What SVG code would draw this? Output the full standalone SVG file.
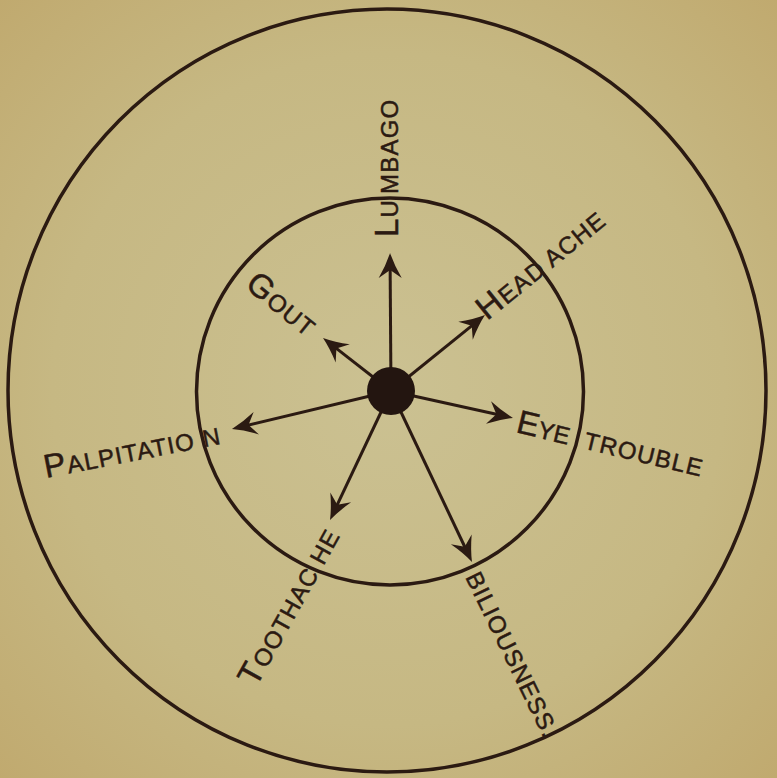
<svg xmlns="http://www.w3.org/2000/svg" width="777" height="778" viewBox="0 0 777 778">
<defs>
<radialGradient id="bg" cx="50%" cy="50%" r="72%">
<stop offset="0" stop-color="#CBC192"/>
<stop offset="0.6" stop-color="#C6B883"/>
<stop offset="1" stop-color="#C0A96E"/>
</radialGradient>
<marker id="ah" markerUnits="userSpaceOnUse" markerWidth="28" markerHeight="26" viewBox="-26 -13 28 26" refX="-10" refY="0" orient="auto">
<path d="M0,0 Q-12,-4 -25,-11.5 L-17,0 L-25,11.5 Q-12,4 0,0 Z" fill="#2B1A12"/>
</marker>
<style>
.ring{fill:none;stroke:#2B1A12;stroke-width:3.5}
.conn line{stroke:#2B1A12;stroke-width:3;marker-end:url(#ah)}
.lbl{font-family:"Liberation Sans",Arial,sans-serif;font-size:24px;fill:#2B1A12;stroke:#2B1A12;stroke-width:0.5;letter-spacing:1.2px}
.big{font-size:33px}
.tight{letter-spacing:0}
</style>
</defs>
<rect width="777" height="778" fill="url(#bg)"/>
<g id="outer-circle"><ellipse class="ring" cx="387" cy="390.5" rx="379" ry="381.5"/></g>
<g id="inner-circle"><circle class="ring" cx="390" cy="391.5" r="193.5"/></g>
<g id="connectors" class="conn">
<line x1="391" y1="391" x2="390.1" y2="263"/>
<line x1="391" y1="391" x2="330.9" y2="344.1"/>
<line x1="391" y1="391" x2="477.2" y2="321.3"/>
<line x1="391" y1="391" x2="241.7" y2="426.7"/>
<line x1="391" y1="391" x2="503.2" y2="415.8"/>
<line x1="391" y1="391" x2="334.3" y2="511"/>
<line x1="391" y1="391" x2="467.7" y2="553"/>
</g>
<g id="center"><circle cx="391" cy="391" r="24" fill="#231510"/></g>
<g id="lumbago"><text class="lbl" transform="translate(398,237) rotate(-90)"><tspan class="big">L</tspan>U<tspan dx="5">MBAGO</tspan></text></g>
<g id="gout"><text class="lbl" transform="translate(244,287) rotate(39)"><tspan class="big">G</tspan>OUT</text></g>
<g id="headache"><text class="lbl" transform="translate(487,321) rotate(-39)"><tspan class="big">H</tspan>EAD<tspan dx="6">ACHE</tspan></text></g>
<g id="palpitation"><text class="lbl" transform="translate(46,478) rotate(-11)"><tspan class="big">P</tspan>ALPITATIO<tspan dx="8">N</tspan></text></g>
<g id="eye-trouble"><text class="lbl" transform="translate(515,432) rotate(13.5)"><tspan class="big tight">E</tspan><tspan class="tight">YE </tspan><tspan dx="9">TROUBLE</tspan></text></g>
<g id="toothache"><text class="lbl" transform="translate(256,688) rotate(-61)"><tspan class="big">T</tspan>OOTHAC<tspan dx="8">HE</tspan></text></g>
<g id="biliousness"><text class="lbl" transform="translate(465,577) rotate(64)">BILIOUSNESS.</text></g>
</svg>
